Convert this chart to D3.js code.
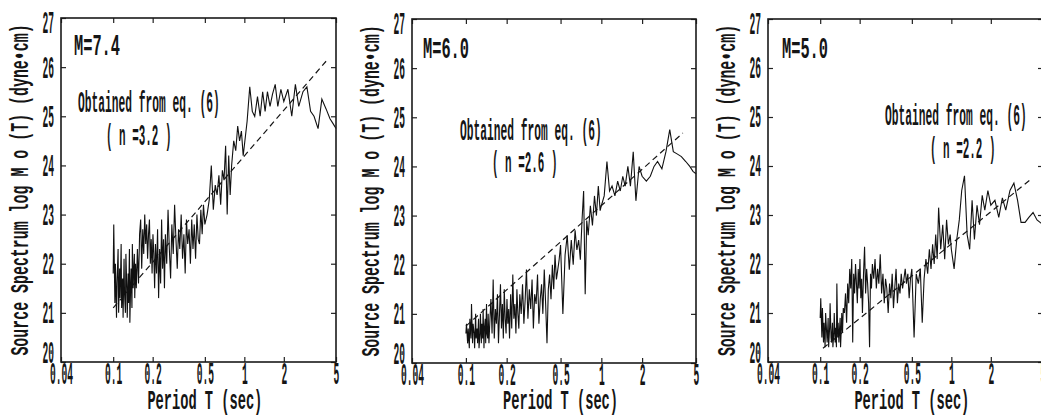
<!DOCTYPE html>
<html><head><meta charset="utf-8">
<script src="https://cdn.jsdelivr.net/npm/d3@7"></script>
<style>body{margin:0;background:#fff} svg{display:block}</style>
</head><body>
<svg id="c" width="1041" height="417"></svg>
<script>
// ---------- data ----------
const periods = [
 0.100,0.101,0.103,0.104,0.106,0.107,0.109,0.110,0.112,0.113,
 0.115,0.116,0.118,0.119,0.121,0.122,0.124,0.125,0.127,0.128,
 0.130,0.131,0.133,0.134,0.136,0.137,0.139,0.140,0.142,0.143,
 0.145,0.146,0.148,0.150,
 0.153,0.156,0.159,0.162,0.165,0.168,0.171,0.174,0.177,0.180,
 0.183,0.186,0.189,0.192,0.195,0.198,0.201,0.204,0.207,0.210,
 0.214,0.218,0.222,0.226,0.230,0.234,0.238,0.242,0.246,0.250,
 0.256,0.262,0.268,0.274,0.280,0.287,0.294,0.301,0.308,0.315,
 0.322,0.330,0.338,0.346,0.354,0.362,0.370,0.379,0.388,0.397,
 0.406,0.415,0.425,0.435,0.445,0.455,0.466,0.477,0.488,0.500,
 0.52,0.54,0.56,0.58,0.60,0.62,0.64,0.66,0.68,0.70,
 0.72,0.74,0.76,0.78,0.80,0.83,0.86,0.89,0.92,0.95,
 0.98,1.00,
 1.05,1.10,1.15,1.20,1.26,1.32,1.38,1.44,1.50,1.57,
 1.64,1.72,1.80,1.90,2.00,
 2.15,2.30,2.45,2.60,2.80,3.00,3.20,3.40,3.65,3.90,
 4.20,4.50,4.75,5.00
];
const spectrumM74 = [
 21.8,22.8,21.2,22.0,20.9,21.6,22.3,21.0,21.9,21.3,
 22.4,21.1,21.7,20.9,22.1,21.4,21.0,22.2,21.5,20.9,
 21.8,21.2,22.3,20.8,21.6,21.9,21.1,22.4,21.5,21.8,
 22.2,21.3,22.0,21.5,
 22.3,21.6,22.6,22.9,21.9,22.7,22.2,23.0,22.4,22.8,
 22.1,22.6,22.9,22.0,22.5,21.8,22.6,22.2,21.5,22.4,
 21.8,22.7,21.3,22.3,21.6,22.9,21.9,22.5,21.5,22.6,
 22.0,23.1,22.3,21.7,22.8,22.2,23.2,22.5,21.9,22.7,
 22.3,23.0,22.1,22.6,21.8,22.9,22.4,22.7,22.0,22.9,
 22.3,22.8,22.1,23.0,22.5,22.4,23.1,22.6,23.2,22.8,
 23.0,23.3,24.0,23.1,23.6,23.4,23.8,23.2,23.9,23.7,
 24.4,23.0,24.2,23.4,24.0,24.5,24.3,24.8,24.5,24.7,
 24.2,24.4,
 24.9,25.6,25.1,25.0,25.4,25.0,25.5,25.1,25.5,25.2,
 25.45,25.65,25.2,25.55,25.3,
 25.55,25.0,25.65,25.2,25.5,25.6,25.1,25.0,24.75,25.35,
 25.15,24.95,24.85,24.75
];
const spectrumM60 = [
 20.6,20.8,20.4,20.7,20.3,20.9,20.5,21.2,20.4,20.8,
 20.6,20.3,21.0,20.5,20.7,20.4,20.9,20.3,20.6,21.0,
 20.4,20.8,20.5,21.1,20.3,20.7,20.9,20.4,21.2,20.6,
 20.5,21.0,20.4,20.8,
 21.3,20.6,21.7,20.5,21.1,20.8,21.4,20.4,21.0,21.6,
 20.7,21.2,20.5,21.5,20.9,20.6,21.3,20.8,21.1,20.5,
 21.4,20.7,21.8,20.9,21.2,20.6,21.5,21.0,20.7,21.4,
 21.0,21.6,20.8,21.3,21.9,20.9,21.5,21.1,21.7,20.7,
 21.4,21.2,21.8,20.8,21.3,21.6,21.0,21.9,21.2,20.4,
 21.5,21.8,21.3,22.0,21.5,22.2,21.7,21.9,22.1,22.4,
 21.0,22.2,22.6,21.9,22.5,22.0,22.7,22.3,22.5,22.1,
 22.9,23.5,21.4,22.9,22.6,23.2,22.8,23.4,23.0,23.6,
 23.1,23.2,
 23.4,24.1,23.5,23.6,23.4,23.7,23.5,23.8,23.6,24.0,
 23.6,24.3,23.3,24.0,23.8,
 23.7,23.8,24.0,24.1,23.95,24.3,24.75,24.3,24.25,24.2,
 24.1,24.0,23.9,23.85
];
const spectrumM50 = [
 20.9,21.3,20.5,21.1,20.4,20.8,20.3,21.0,20.6,20.4,
 20.9,20.3,20.7,21.2,20.5,20.4,20.8,20.3,20.6,21.0,
 20.4,20.7,20.3,21.6,20.5,20.8,20.4,20.6,20.9,20.3,
 20.7,21.0,20.6,21.1,
 21.0,21.4,20.8,21.6,21.2,21.9,21.5,22.1,20.4,21.8,
 21.4,22.0,21.6,21.2,21.9,21.5,22.1,21.3,21.7,21.0,
 21.8,22.35,21.4,21.9,21.6,21.2,20.3,21.8,21.5,22.0,
 21.7,22.1,21.5,21.9,21.6,22.2,21.4,21.8,21.2,21.7,
 21.5,21.0,21.6,21.3,21.8,21.1,21.5,21.9,21.2,21.6,
 21.4,21.8,21.5,21.7,21.9,21.6,21.8,21.3,21.7,21.9,
 20.5,21.8,21.6,21.9,20.8,21.7,22.1,21.8,22.3,21.9,
 22.4,22.0,22.6,22.1,23.15,22.3,22.8,22.1,22.9,22.4,
 22.6,22.3,
 21.9,22.5,22.9,23.5,23.8,22.6,22.3,23.3,22.5,23.2,
 22.8,23.4,23.1,23.5,23.2,
 23.3,22.95,23.35,23.1,23.5,23.65,23.3,22.85,22.85,22.95,
 23.05,22.9,22.85,22.8
];
// fitted lines (eq. 6), dashed
const fitPeriodsM74 = [0.1, 4.2],  fitValuesM74 = [21.1, 26.12];
const fitPeriodsM60 = [0.1, 4.0],  fitValuesM60 = [20.75, 24.68];
const fitPeriodsM50 = [0.105, 4.0], fitValuesM50 = [20.28, 23.72];

const magnitudeLabels = ["M=7.4", "M=6.0", "M=5.0"];
const nLabels = ["( n =3.2 )", "( n =2.6 )", "( n =2.2 )"];
const eqLabel = "Obtained from eq. (6)";
const xTicks = [0.04, 0.1, 0.2, 0.5, 1, 2, 5];
const xTickLabels = ["0.04", "0.1", "0.2", "0.5", "1", "2", "5"];
const yTicks = [20, 21, 22, 23, 24, 25, 26, 27];
const yTitle = "Source Spectrum log M o (T)  (dyne\u2022cm)";
const xTitle = "Period T (sec)";

// ---------- layout ----------
const FONT = "'Liberation Mono','DejaVu Sans Mono',monospace";
const panels = [
  {left:61,  right:336,  top:18, bottom:362, values:spectrumM74, fitT:fitPeriodsM74, fitV:fitValuesM74,
   mag:magnitudeLabels[0], n:nLabels[0], magPos:[74,55], eqPos:[78,112], nPos:[106,145]},
  {left:412, right:696,  top:19, bottom:363, values:spectrumM60, fitT:fitPeriodsM60, fitV:fitValuesM60,
   mag:magnitudeLabels[1], n:nLabels[1], magPos:[423,58], eqPos:[460,140], nPos:[492,172]},
  {left:768, right:1043, top:19, bottom:362, values:spectrumM50, fitT:fitPeriodsM50, fitV:fitValuesM50,
   mag:magnitudeLabels[2], n:nLabels[2], magPos:[782,58], eqPos:[885,125], nPos:[930,158]}
];

const svg = d3.select("#c").style("font-family", FONT);

function txt(g, s, x, y, size, sx, anchor, rot) {
  return g.append("text")
    .attr("transform", `translate(${x},${y})` + (rot ? ` rotate(${rot})` : "") + ` scale(${sx},1)`)
    .attr("font-size", size).attr("text-anchor", anchor || "start")
    .attr("font-weight", "bold")
    .attr("fill", "#151515").text(s);
}

const TICK_SX = 0.31;
const TICK_FS = 31;

panels.forEach(p => {
  const x = d3.scaleLog().domain([0.04, 5]).range([p.left, p.right]);
  const y = d3.scaleLinear().domain([20, 27]).range([p.bottom, p.top]);
  const g = svg.append("g");

  // data curve
  const line = d3.line().x(d => x(d[0])).y(d => y(d[1]));
  g.append("path").datum(d3.zip(periods, p.values))
    .attr("d", line).attr("fill", "none").attr("stroke", "#111")
    .attr("stroke-width", 1.1).attr("stroke-linejoin", "miter");

  // fitted dashed line
  g.append("path").datum(d3.zip(p.fitT, p.fitV))
    .attr("d", line).attr("fill", "none").attr("stroke", "#151515")
    .attr("stroke-width", 1.2).attr("stroke-dasharray", "6,4");

  // axes (inward ticks)
  const bottom = g.append("g").attr("transform", `translate(0,${p.bottom})`)
    .call(d3.axisBottom(x).tickValues(xTicks).tickFormat((d, i) => xTickLabels[i])
      .tickSizeInner(-5).tickSizeOuter(0));
  bottom.selectAll("text").attr("y", 22).attr("dy", null)
    .attr("transform", `scale(${TICK_SX},1)`).attr("font-size", TICK_FS)
    .attr("font-weight", "bold")
    .attr("font-family", FONT).attr("fill", "#151515");

  const top = g.append("g").attr("transform", `translate(0,${p.top})`)
    .call(d3.axisTop(x).tickValues(xTicks).tickFormat("").tickSizeInner(-5).tickSizeOuter(0));

  const left = g.append("g").attr("transform", `translate(${p.left},0)`)
    .call(d3.axisLeft(y).tickValues(yTicks).tickFormat(d3.format("d"))
      .tickSizeInner(-5).tickSizeOuter(0));
  left.selectAll("text")
    .attr("x", -7 / TICK_SX).attr("dy", "0.32em")
    .attr("y", d => d === 27 ? 5 : d === 20 ? -9 : 0)
    .attr("transform", `scale(${TICK_SX},1)`).attr("font-size", TICK_FS)
    .attr("font-weight", "bold")
    .attr("font-family", FONT).attr("fill", "#151515");

  const right = g.append("g").attr("transform", `translate(${p.right},0)`)
    .call(d3.axisRight(y).tickValues(yTicks).tickFormat("").tickSizeInner(-5).tickSizeOuter(0));

  [bottom, top, left, right].forEach(a => {
    a.select(".domain").remove();
    a.selectAll("line").attr("stroke", "#222").attr("stroke-width", 1.2);
  });

  // frame
  g.append("rect").attr("x", p.left).attr("y", p.top)
    .attr("width", p.right - p.left).attr("height", p.bottom - p.top)
    .attr("fill", "none").attr("stroke", "#1a1a1a").attr("stroke-width", 1.6);

  // titles
  txt(g, yTitle, p.left - 33, (p.top + p.bottom) / 2, 25, 0.597, "middle", -90);
  txt(g, xTitle, x(0.5), 409, 27, 0.507, "middle");

  // annotations
  txt(g, p.mag, p.magPos[0], p.magPos[1], 30, 0.511);
  txt(g, eqLabel, p.eqPos[0], p.eqPos[1], 30, 0.375);
  txt(g, p.n, p.nPos[0], p.nPos[1], 30, 0.364);
});
</script>
</body></html>
